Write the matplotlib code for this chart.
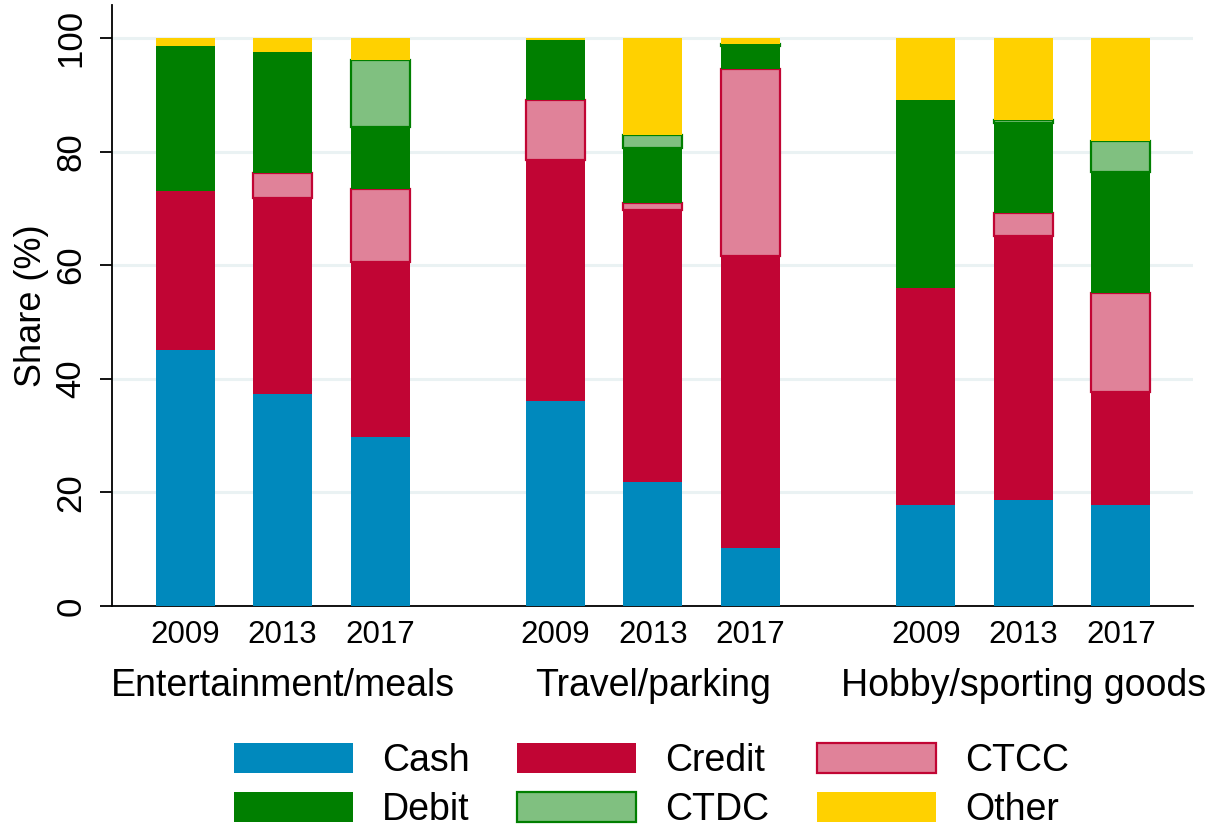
import matplotlib.pyplot as plt
from matplotlib.patches import Patch
from matplotlib.transforms import blended_transform_factory
import numpy as np

plt.rcParams['font.family'] = ['Liberation Sans', 'DejaVu Sans']

groups = ['Entertainment/meals', 'Travel/parking', 'Hobby/sporting goods']
years = ['2009', '2013', '2017']
methods = ['Cash', 'Credit', 'CTCC', 'Debit', 'CTDC', 'Other']

# shares (%) per bar, order: group1 2009/2013/2017, group2 ..., group3 ...
cash = [45.1, 37.3, 29.8, 36.1, 21.8, 10.2, 17.8, 18.7, 17.8]
credit = [28.0, 34.5, 30.8, 42.4, 47.9, 51.4, 38.2, 46.5, 19.9]
ctcc = [0.0, 4.4, 12.8, 10.6, 1.2, 32.9, 0.0, 4.0, 17.4]
debit = [25.5, 21.3, 11.0, 10.5, 9.7, 4.1, 33.1, 15.8, 21.3]
ctdc = [0.0, 0.0, 11.7, 0.1, 2.3, 0.3, 0.0, 0.6, 5.5]
other = [1.4, 2.5, 3.9, 0.3, 17.1, 1.1, 10.9, 14.4, 18.1]

series = [cash, credit, ctcc, debit, ctdc, other]
face = ['#0089BD', '#C10534', '#E08299', '#007F00', '#80C080', '#FFD100']
edge = ['#0089BD', '#C10534', '#C10534', '#007F00', '#007F00', '#FFD100']
elw = [0, 0, 1.6, 0, 1.6, 0]

group_step = 3.8
pos = np.concatenate([g * group_step + np.arange(3) for g in range(3)])
width = 0.605

fig = plt.figure(figsize=(12.2, 8.26), dpi=100)
ax = fig.add_axes([0.0918, 0.2663, 0.886, 0.7277])

bottom = np.zeros(len(pos))
for vals, fc, ec, lw in zip(series, face, edge, elw):
    vals = np.array(vals)
    ax.bar(pos, vals, width, bottom=bottom, color=fc,
           edgecolor=ec if lw > 0 else 'none', linewidth=lw, zorder=3)
    bottom += vals

ax.set_ylim(0, 105.8)
ax.set_xlim(-0.75, 10.34)
ax.set_yticks([0, 20, 40, 60, 80, 100])
ax.yaxis.grid(True, color='#EAF2F3', linewidth=2.2, zorder=0)
ax.set_axisbelow(True)
for s in ['top', 'right']:
    ax.spines[s].set_visible(False)
for s in ['left', 'bottom']:
    ax.spines[s].set_linewidth(1.3)

ax.tick_params(axis='y', labelsize=25, length=8.5, width=1.3, pad=9)
for lab in ax.get_yticklabels():
    lab.set_rotation(90)
    lab.set_va('center')
ax.set_ylabel('Share (%)', fontsize=26, labelpad=4)

ax.set_xticks(pos)
ax.set_xticklabels(years * 3)
ax.tick_params(axis='x', labelsize=22.5, length=0, pad=10)

trans = blended_transform_factory(ax.transData, ax.transAxes)
for g, name in enumerate(groups):
    ax.text(g * group_step + 1, -0.133, name, transform=trans,
            ha='center', va='center', fontsize=27)

handles = [Patch(facecolor=fc, edgecolor=ec if lw > 0 else fc, linewidth=lw if lw > 0 else 0)
           for fc, ec, lw in zip(face, edge, elw)]
# legend fills column by column; reorder so rows read Cash/Credit/CTCC, Debit/CTDC/Other
order = [0, 3, 1, 4, 2, 5]
fig.legend([handles[i] for i in order], [methods[i] for i in order],
           loc='lower center', bbox_to_anchor=(0.534, -0.03), borderpad=0.1,
           ncol=3, frameon=False, fontsize=27, handlelength=3.17, handleheight=0.85,
           handletextpad=0.77, columnspacing=1.28, labelspacing=0.36)

fig.savefig('out.png', dpi=100)
